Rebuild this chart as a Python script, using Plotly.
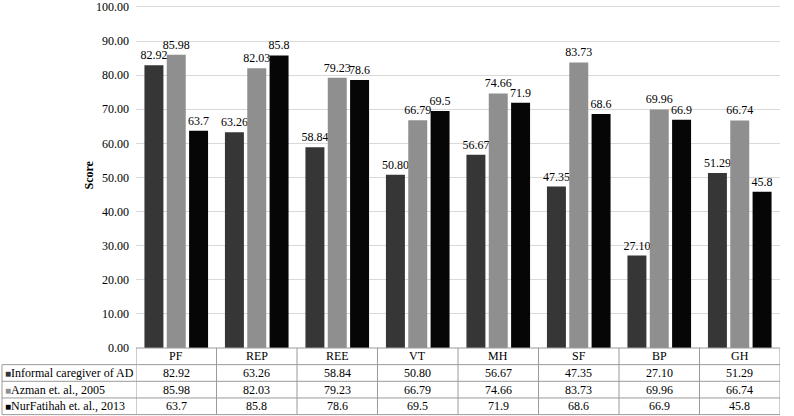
import plotly.graph_objects as go

categories = ["PF", "REP", "REE", "VT", "MH", "SF", "BP", "GH"]
series_names = ["Informal caregiver of AD", "Azman et. al., 2005", "NurFatihah et. al., 2013"]
informal = [82.92, 63.26, 58.84, 50.80, 56.67, 47.35, 27.10, 51.29]
azman = [85.98, 82.03, 79.23, 66.79, 74.66, 83.73, 69.96, 66.74]
nurfatihah = [63.7, 85.8, 78.6, 69.5, 71.9, 68.6, 66.9, 45.8]
y_ticks = [0, 10, 20, 30, 40, 50, 60, 70, 80, 90, 100]

series_values = [informal, azman, nurfatihah]
colors = ["#363636", "#8f8f8f", "#060606"]
decimals = [2, 2, 1]

W, H = 794, 416
ML, MR, MT, MB = 136, 14, 0, 68
plot_w = W - ML - MR
plot_h = H - MT - MB
FONT = "Liberation Serif"
border = "#9a9a9a"
y_top = 100 + 4 * 100 / (plot_h - 4)

fig = go.Figure()
for name, vals, col, d in zip(series_names, series_values, colors, decimals):
    fig.add_trace(go.Bar(
        x=categories, y=vals, name=name, marker=dict(color=col, line=dict(width=0)),
        text=[f"{v:.{d}f}" for v in vals], textposition="outside",
        textfont=dict(family=FONT, size=12, color="black"),
        constraintext="none", cliponaxis=False, showlegend=False,
    ))

shapes = []
annotations = []
row_h = 16.8 / plot_h
left_x = (2 - ML) / plot_w
n = len(categories)

shapes.append(dict(type="line", xref="x", yref="paper", x0=-0.5, x1=n - 0.5, y0=0, y1=0,
                   line=dict(color=border, width=1)))
for r in range(1, 4 + 1):
    shapes.append(dict(type="line", xref="paper", yref="paper", x0=left_x, x1=1,
                       y0=-r * row_h, y1=-r * row_h, line=dict(color=border, width=1)))
for i in range(n + 1):
    shapes.append(dict(type="line", xref="x", yref="paper", x0=i - 0.5, x1=i - 0.5,
                       y0=0, y1=-4 * row_h, line=dict(color=border, width=1)))
shapes.append(dict(type="line", xref="paper", yref="paper", x0=left_x, x1=left_x,
                   y0=-row_h, y1=-4 * row_h, line=dict(color=border, width=1)))

for c in categories:
    annotations.append(dict(x=c, y=-0.5 * row_h, xref="x", yref="paper", text=c,
                            showarrow=False, font=dict(family=FONT, size=12, color="black"),
                            xanchor="center", yanchor="middle"))
for r, (name, vals, col, d) in enumerate(zip(series_names, series_values, colors, decimals)):
    yc = -(r + 1.5) * row_h
    annotations.append(dict(x=(3 - ML) / plot_w, y=yc, xref="paper", yref="paper",
                            text=f"<span style='color:{col};font-size:10px'>■</span>{name}",
                            showarrow=False, font=dict(family=FONT, size=12, color="black"),
                            xanchor="left", yanchor="middle"))
    for c, v in zip(categories, vals):
        annotations.append(dict(x=c, y=yc, xref="x", yref="paper", text=f"{v:.{d}f}",
                                showarrow=False, font=dict(family=FONT, size=12, color="black"),
                                xanchor="center", yanchor="middle"))

annotations.append(dict(x=(88 - ML) / plot_w, y=0.5, xref="paper", yref="paper",
                        text="<b>Score</b>", textangle=-90, showarrow=False,
                        font=dict(family=FONT, size=12, color="black"),
                        xanchor="center", yanchor="middle"))

fig.update_layout(
    width=W, height=H, margin=dict(l=ML, r=MR, t=MT, b=MB),
    paper_bgcolor="white", plot_bgcolor="white",
    barmode="group", bargap=0.168, bargroupgap=0.15,
    shapes=shapes, annotations=annotations,
    font=dict(family=FONT, size=12, color="black"),
    xaxis=dict(type="category", range=[-0.5, n - 0.5], showticklabels=False,
               showgrid=False, zeroline=False, showline=False, ticks=""),
    yaxis=dict(range=[0, y_top], tickvals=y_ticks, tickformat=".2f",
               showgrid=True, gridcolor="#d9d9d9", gridwidth=1, zeroline=False,
               showline=False, ticks="", ticklabelstandoff=6, ticklabeloverflow="allow",
               tickfont=dict(family=FONT, size=12, color="black")),
)

fig.write_html("out.html")
